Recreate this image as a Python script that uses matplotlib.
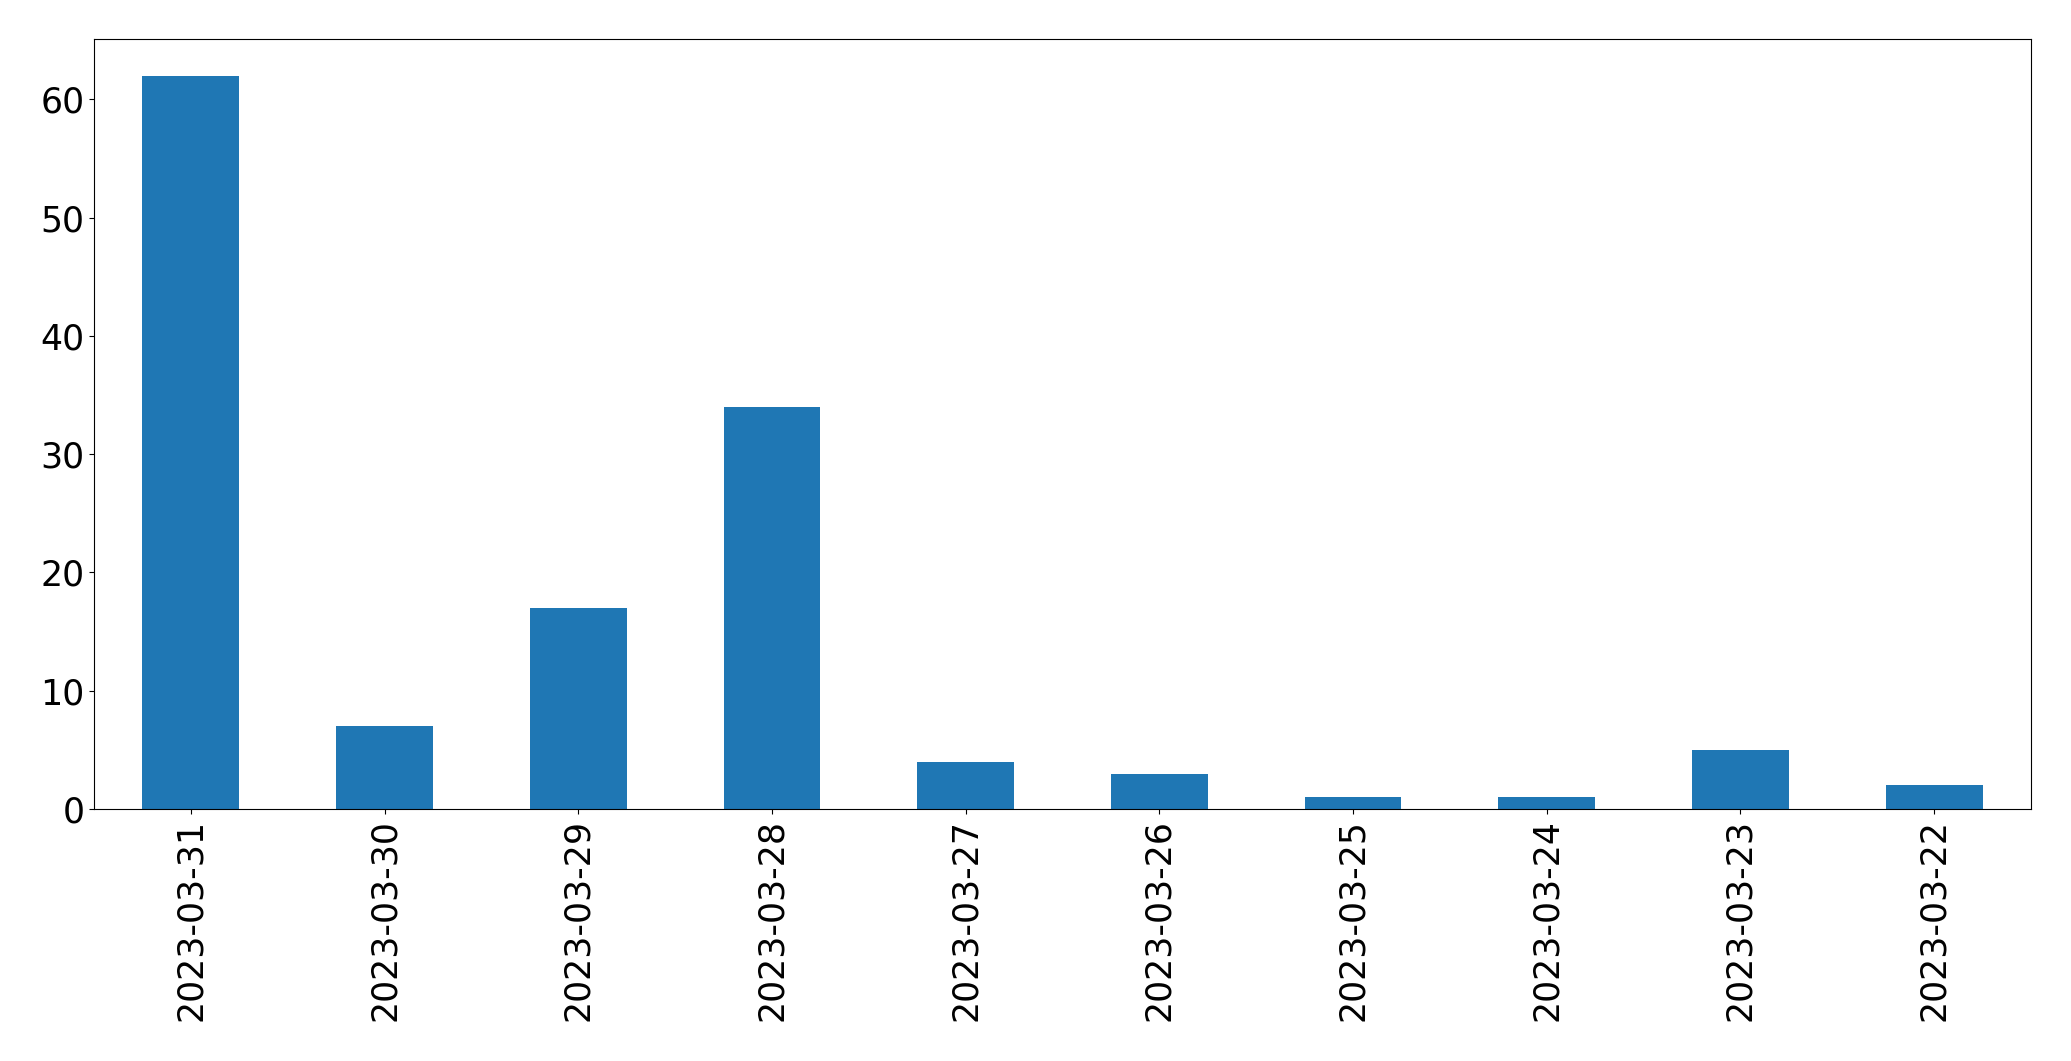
import matplotlib
matplotlib.use("Agg")
import matplotlib.pyplot as plt

dates = ["2023-03-31", "2023-03-30", "2023-03-29", "2023-03-28", "2023-03-27",
         "2023-03-26", "2023-03-25", "2023-03-24", "2023-03-23", "2023-03-22"]
counts = [62, 7, 17, 34, 4, 3, 1, 1, 5, 2]

fig = plt.figure(figsize=(20.71, 10.61), dpi=100)
ax = fig.add_axes([94/2071, 1 - 809/1061, (2031 - 94)/2071, (809 - 39)/1061])
x = list(range(len(dates)))
ax.bar(x, counts, width=0.5, color="#1f77b4")
ax.set_xlim(-0.5, len(dates) - 0.5)
ax.set_ylim(0, 65.1)
ax.set_xticks(x)
ax.set_xticklabels(dates, rotation=90)
ax.set_yticks([0, 10, 20, 30, 40, 50, 60])
ax.tick_params(labelsize=25)
fig.savefig("out.png", dpi=100)
